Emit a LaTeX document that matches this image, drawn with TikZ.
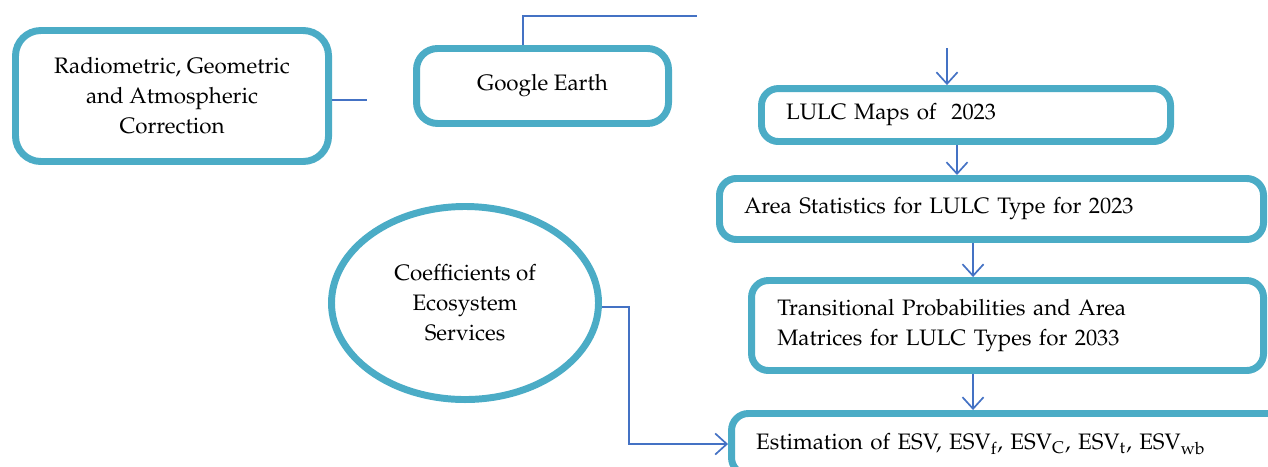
\documentclass[tikz,border=0pt]{standalone}
\usepackage[T1]{fontenc}
\usepackage{mathpazo}
\usetikzlibrary{shapes.geometric,arrows.meta}
\definecolor{boxcol}{HTML}{4BACC6}
\definecolor{linecol}{HTML}{4472C4}
\begin{document}
\begin{tikzpicture}[
    box/.style = {draw = boxcol, line width = 3.3pt, rounded corners = 8pt,
      fill = white, font = \fontsize{10.6}{14.2}\selectfont},
    lbox/.style = {box, align = left, inner xsep = .41cm},
    flow/.style = {draw = linecol, line width = .8pt},
    > = {Straight Barb[length = 5.5pt, width = 10pt]}
  ]
  \useasboundingbox (0,0) rectangle (21.133,-7.767);
  % left part
  \node [box, rounded corners = 12pt, align = center,
    minimum width = 5.217cm, minimum height = 2.183cm] (radio) at (2.867,-1.6)
    {Radiometric, Geometric\\and Atmospheric\\Correction};
  \node [box, rounded corners = 10pt, minimum width = 4.2cm,
    minimum height = 1.25cm] (google) at (9.042,-1.433) {Google Earth};
  \node [box, ellipse, align = center, minimum width = 4.45cm,
    minimum height = 3.217cm] (coef) at (7.75,-5.05)
    {Coefficients of\\Ecosystem\\Services};
  % chain on the right
  \node [lbox, text width = 5.997cm, minimum height = .883cm] (lulc)
    at (16.1,-1.917) {LULC Maps of~ 2023};
  \node [lbox, text width = 8.247cm, minimum height = 1.017cm] (area)
    at (16.525,-3.483) {Area Statistics for LULC Type for 2023};
  \node [lbox, inner xsep = .43cm, text width = 7.673cm, minimum height = 1.5cm]
    (trans) at (16.792,-5.425)
    {Transitional Probabilities and Area\\Matrices for LULC Types for 2033};
  \node [lbox, text width = 8.43cm, minimum height = 1.017cm] (est)
    at (16.817,-7.4) {Estimation of ESV, ESV\textsubscript{f},
    ESV\textsubscript{C}, ESV\textsubscript{t}, ESV\textsubscript{wb}};
  \coordinate (top) at (15.783,-.8);

  \draw [flow] ([yshift = -.067cm]radio.east) -- ++(.583,0);
  \draw [flow] ([xshift = -.325cm]google.north) -- ++(0,.483) -- ++(2.9,0);
  \draw [flow, ->] (top) -- (top |- lulc.north);
  \draw [flow, ->] ([xshift = -.15cm]lulc.south)
    -- ([xshift = -.15cm]lulc.south |- area.north);
  \draw [flow, ->] ([xshift = -.308cm]area.south)
    -- ([xshift = -.308cm]area.south |- trans.north);
  \draw [flow, ->] ([xshift = -.575cm]trans.south)
    -- ([xshift = -.575cm]trans.south |- est.north);
  \draw [flow, ->] ([yshift = -.067cm]coef.east) -- ++(.45,0) |- (est.west);
\end{tikzpicture}
\end{document}
